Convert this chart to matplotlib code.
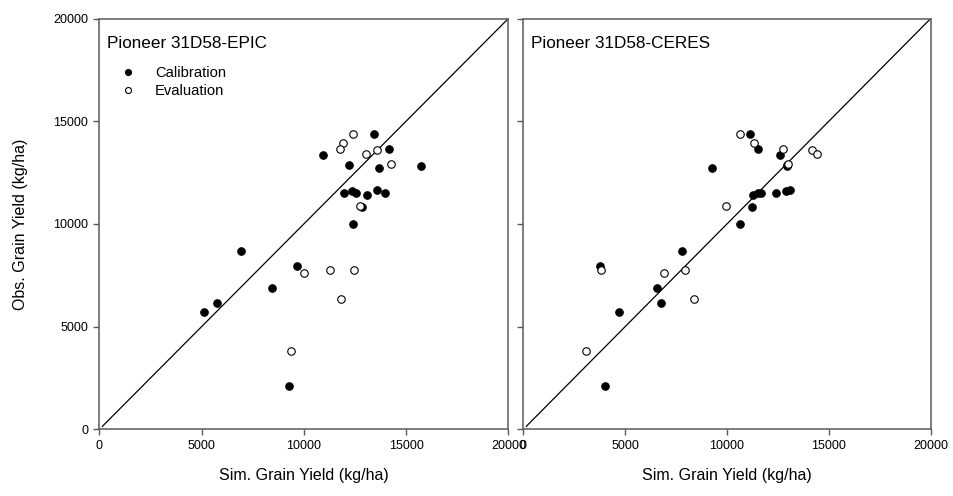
import matplotlib
matplotlib.use("Agg")
import matplotlib.pyplot as plt
import numpy as np

plt.rcParams['font.family'] = ['Liberation Sans', 'DejaVu Sans']

# observed yields (kg/ha) with EPIC and CERES simulated yields
calib_obs = [14368, 13659, 13367, 12862, 12832, 12735, 11502, 11618, 11521,
             11633, 11521, 11390, 10807, 10015, 8683, 7955, 6871, 6176, 5705, 2124]
calib_epic = [13415, 14151, 10913, 12218, 15736, 13690, 11958, 12350, 12562,
              13577, 13970, 13101, 12841, 12400, 6938, 9652, 8440, 5760, 5123, 9274]
calib_ceres = [11127, 11505, 12583, 12926, 12960, 9284, 11520, 12877, 11686,
               13108, 12422, 11275, 11245, 10621, 7779, 3775, 6554, 6765, 4706, 4020]

eval_obs = [14388, 13951, 13625, 13576, 13382, 12930, 10889, 7614, 7745, 7745, 6351, 3810]
eval_epic = [12400, 11894, 11776, 13577, 13052, 14279, 12728, 10010, 11271, 12449, 11811, 9391]
eval_ceres = [10621, 11324, 12765, 14167, 14431, 12990, 9971, 6897, 7956, 3828, 8397, 3059]

panels = [("Pioneer 31D58-EPIC", calib_epic, eval_epic),
          ("Pioneer 31D58-CERES", calib_ceres, eval_ceres)]

ticks = [0, 5000, 10000, 15000, 20000]
one_to_one = [150, 20000]
spine_col = "#5a5a5a"

fig = plt.figure(figsize=(9.54, 4.96), dpi=100)
ax1 = fig.add_axes([0.1041, 0.1343, 0.4288, 0.8284])
ax2 = fig.add_axes([0.5485, 0.1343, 0.4271, 0.8284])

for ax, (title, sim_c, sim_e) in zip([ax1, ax2], panels):
    ax.plot(one_to_one, one_to_one, color="black", lw=0.9, zorder=1)
    ax.plot(sim_c, calib_obs, "o", ms=5.4, mfc="black", mec="black", mew=0.8,
            ls="none", label="Calibration", zorder=3)
    ax.plot(sim_e, eval_obs, "o", ms=5.4, mfc="white", mec="black", mew=0.8,
            ls="none", label="Evaluation", zorder=3)
    ax.set_xlim(0, 20000)
    ax.set_ylim(0, 20000)
    ax.set_xticks(ticks)
    ax.set_yticks(ticks)
    ax.tick_params(direction="out", length=4, width=1, color=spine_col,
                   labelsize=9, pad=4)
    for s in ax.spines.values():
        s.set_color(spine_col)
        s.set_linewidth(1.1)
    ax.text(0.019, 0.958, title, transform=ax.transAxes, va="top", ha="left",
            fontsize=12.3)
    ax.set_xlabel("Sim. Grain Yield (kg/ha)", fontsize=11.5, labelpad=11)

ax1.set_ylabel("Obs. Grain Yield (kg/ha)", fontsize=11.5, labelpad=18)
ax2.tick_params(labelleft=False)

ax1.legend(loc="upper left", bbox_to_anchor=(0.028, 0.91), frameon=False,
           markerscale=0.8, handlelength=1.0, handletextpad=1.3,
           labelspacing=0.3, fontsize=10.6, borderpad=0.2)

fig.savefig("out.png", dpi=100)
